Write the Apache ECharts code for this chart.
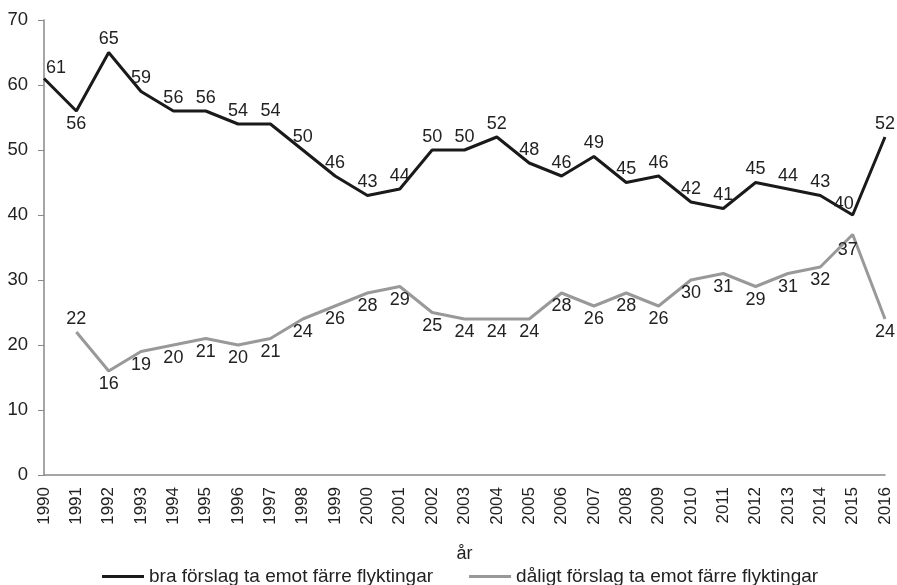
<!DOCTYPE html>
<html>
<head>
<meta charset="utf-8">
<script src="https://cdn.jsdelivr.net/npm/echarts@6/dist/echarts.min.js"></script>
<style>
  html, body { margin: 0; padding: 0; background: #fff; }
  #chart { width: 897px; height: 585px; }
</style>
</head>
<body>
<div id="chart"></div>
<script>
  // år
  var years = ['1990','1991','1992','1993','1994','1995','1996','1997','1998','1999','2000','2001','2002',
    '2003','2004','2005','2006','2007','2008','2009','2010','2011','2012','2013','2014','2015','2016'];
  // bra förslag
  var braValues = [61,56,65,59,56,56,54,54,50,46,43,44,50,50,52,48,46,49,45,46,42,41,45,44,43,40,52];
  // dåligt förslag
  var daligtValues = [null,22,16,19,20,21,20,21,24,26,28,29,25,24,24,24,28,26,28,26,30,31,29,31,32,37,24];
  var yTicks = [0,10,20,30,40,50,60,70];

  var font = '"Liberation Sans", Arial, sans-serif';
  var braName = 'bra förslag ta emot färre flyktingar';
  var daligtName = 'dåligt förslag ta emot färre flyktingar';

  var braData = braValues.map(function (v, i) {
    var d = { value: v };
    if (i === 0) d.label = { position: 'right', offset: [-2, -10] };
    if (i === 1) d.label = { position: 'bottom' };
    if (i === 25) d.label = { offset: [-9, 2] };
    return d;
  });
  var daligtData = daligtValues.map(function (v, i) {
    var d = { value: v };
    if (i === 1) d.label = { position: 'top' };
    if (i === 25) d.label = { offset: [-5, 2] };
    return d;
  });

  var chart = echarts.init(document.getElementById('chart'));
  chart.setOption({
    animation: false,
    textStyle: { fontFamily: font },
    grid: { left: 44, right: 12, top: 20, bottom: 110 },
    legend: {
      top: 562,
      left: 97,
      icon: 'rect',
      itemWidth: 42,
      itemHeight: 3,
      itemGap: 36,
      textStyle: { fontSize: 19, color: '#222', fontFamily: font },
      data: [
        { name: braName, itemStyle: { color: '#1a1a1a' } },
        { name: daligtName, itemStyle: { color: '#999' } }
      ]
    },
    xAxis: {
      type: 'category',
      data: years,
      boundaryGap: false,
      name: 'år',
      nameLocation: 'middle',
      nameGap: 70,
      nameTextStyle: { fontSize: 18, color: '#222' },
      axisLine: { lineStyle: { color: '#888', width: 1.5 } },
      axisTick: { show: false },
      axisLabel: { rotate: 90, fontSize: 17, color: '#222', margin: 12, interval: 0 }
    },
    yAxis: {
      type: 'value',
      min: yTicks[0],
      max: yTicks[yTicks.length - 1],
      interval: 10,
      axisLine: { show: true, lineStyle: { color: '#888', width: 1.5 } },
      axisTick: { show: true, inside: false, length: 6, lineStyle: { color: '#888' } },
      splitLine: { show: false },
      axisLabel: { fontSize: 18.5, color: '#222', margin: 16 }
    },
    series: [
      {
        name: braName,
        type: 'line',
        data: braData,
        symbol: 'circle',
        symbolSize: 0.1,
        lineStyle: { color: '#1a1a1a', width: 3 },
        itemStyle: { color: '#1a1a1a' },
        label: { show: true, position: 'top', fontSize: 18, color: '#222', distance: 4 }
      },
      {
        name: daligtName,
        type: 'line',
        data: daligtData,
        symbol: 'circle',
        symbolSize: 0.1,
        connectNulls: false,
        lineStyle: { color: '#999', width: 3 },
        itemStyle: { color: '#999' },
        label: { show: true, position: 'bottom', fontSize: 18, color: '#222', distance: 4 }
      }
    ]
  });
</script>
</body>
</html>
